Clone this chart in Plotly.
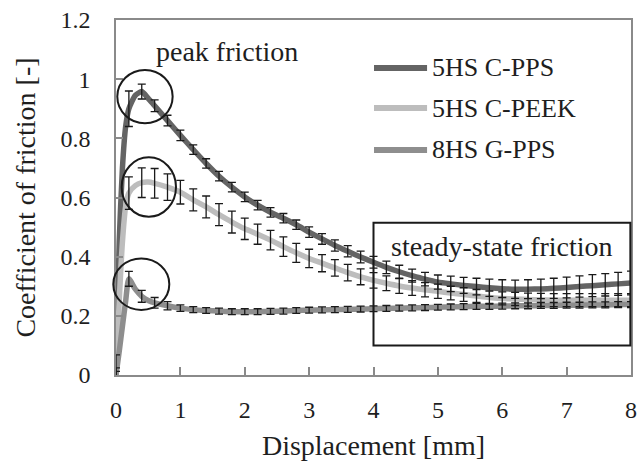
import plotly.graph_objects as go

# Sliding displacement [mm]
DISP = [0, 0.05, 0.1, 0.15, 0.2, 0.3, 0.4, 0.5, 0.6, 0.8,
        1.0, 1.2, 1.4, 1.6, 1.8, 2.0, 2.2, 2.4, 2.6, 2.8,
        3.0, 3.2, 3.4, 3.6, 3.8, 4.0, 4.2, 4.4, 4.6, 4.8,
        5.0, 5.2, 5.4, 5.6, 5.8, 6.0, 6.2, 6.4, 6.6, 6.8,
        7.0, 7.2, 7.4, 7.6, 7.8, 8.0]

# Mean coefficient of friction per material
CF_C_PPS = [0, 0.45, 0.70, 0.84, 0.90, 0.945, 0.958, 0.935, 0.91, 0.86,
            0.81, 0.762, 0.715, 0.672, 0.635, 0.602, 0.574, 0.550, 0.530, 0.508,
            0.483, 0.460, 0.438, 0.418, 0.399, 0.381, 0.364, 0.349, 0.336, 0.324,
            0.314, 0.308, 0.303, 0.299, 0.295, 0.292, 0.290, 0.290, 0.291, 0.293,
            0.296, 0.299, 0.302, 0.305, 0.308, 0.311]
CF_C_PEEK = [0, 0.25, 0.45, 0.57, 0.615, 0.64, 0.65, 0.652, 0.648, 0.635,
             0.618, 0.592, 0.568, 0.542, 0.517, 0.494, 0.476, 0.456, 0.434, 0.413,
             0.394, 0.378, 0.362, 0.346, 0.332, 0.320, 0.310, 0.301, 0.294, 0.288,
             0.283, 0.277, 0.272, 0.267, 0.262, 0.259, 0.257, 0.255, 0.254, 0.253,
             0.253, 0.253, 0.253, 0.253, 0.253, 0.253]
CF_G_PPS = [0, 0.08, 0.165, 0.25, 0.325, 0.29, 0.266, 0.252, 0.244, 0.234,
            0.226, 0.221, 0.218, 0.216, 0.214, 0.214, 0.214, 0.215, 0.216, 0.218,
            0.219, 0.220, 0.221, 0.222, 0.223, 0.224, 0.225, 0.226, 0.227, 0.228,
            0.229, 0.230, 0.231, 0.232, 0.232, 0.233, 0.234, 0.234, 0.235, 0.235,
            0.236, 0.236, 0.237, 0.237, 0.238, 0.238]

# Standard deviation (None = no error bar at that sample)
SD_C_PPS = [0.024, None, None, None, 0.06, None, 0.025, None, 0.02, 0.018,
            0.018, 0.016, 0.016, 0.016, 0.016, 0.016, 0.016, 0.016, 0.016, 0.016,
            0.018, 0.018, 0.019, 0.019, 0.02, 0.02, 0.021, 0.022, 0.022, 0.023,
            0.024, 0.026, 0.027, 0.028, 0.029, 0.030, 0.031, 0.032, 0.033, 0.034,
            0.035, 0.036, 0.037, 0.038, 0.039, 0.040]
SD_C_PEEK = [0.068, None, None, None, 0.055, None, 0.05, None, 0.05, 0.045,
             0.04, 0.037, 0.037, 0.037, 0.037, 0.036, 0.034, 0.033, 0.033, 0.032,
             0.031, 0.029, 0.028, 0.028, 0.027, 0.026, 0.025, 0.025, 0.025, 0.024,
             0.024, 0.023, 0.023, 0.022, 0.022, 0.022, 0.022, 0.022, 0.022, 0.022,
             0.022, 0.022, 0.022, 0.022, 0.022, 0.022]
SD_G_PPS = [0.012, None, None, None, 0.025, None, 0.02, None, 0.018, 0.014,
            0.011, 0.010, 0.010, 0.010, 0.010, 0.010, 0.010, 0.010, 0.010, 0.010,
            0.010, 0.010, 0.010, 0.010, 0.010, 0.010, 0.010, 0.010, 0.010, 0.010,
            0.010, 0.010, 0.010, 0.010, 0.010, 0.010, 0.010, 0.010, 0.010, 0.010,
            0.010, 0.010, 0.010, 0.010, 0.010, 0.010]

SERIES = [
    ("5HS C-PPS", CF_C_PPS, SD_C_PPS, "#646464"),
    ("5HS C-PEEK", CF_C_PEEK, SD_C_PEEK, "#bdbdbd"),
    ("8HS G-PPS", CF_G_PPS, SD_G_PPS, "#8e8e8e"),
]

FONT = "Liberation Serif"
TXT = "#1e1e1e"
AXIS = "#8a8a8a"

fig = go.Figure()


def bar_trace(cf, sd):
    # error bars only at the points that carry a standard deviation
    xs = [d for d, s in zip(DISP, sd) if s is not None]
    ys = [c for c, s in zip(cf, sd) if s is not None]
    es = [s for s in sd if s is not None]
    return go.Scatter(
        x=xs, y=ys, mode="markers", showlegend=False, hoverinfo="skip",
        marker=dict(size=1, opacity=0),
        error_y=dict(type="data", array=es, visible=True,
                     color="#1a1a1a", thickness=1.3, width=4),
    )


# mean curves
for name, cf, sd, col in SERIES:
    fig.add_trace(go.Scatter(
        x=DISP, y=cf, mode="lines", name=name, showlegend=False,
        line=dict(color=col, width=5.5, shape="spline", smoothing=0.6),
    ))

for name, cf, sd, col in SERIES:
    fig.add_trace(bar_trace(cf, sd))

# legend drawn by hand: line sample + label
LEG_Y = [0.865, 0.752, 0.634]
shapes = []
annotations = []
for (name, cf, sd, col), ly in zip(SERIES, LEG_Y):
    shapes.append(dict(type="line", xref="paper", yref="paper",
                       x0=0.501, x1=0.604, y0=ly, y1=ly,
                       line=dict(color=col, width=6)))
    annotations.append(dict(xref="paper", yref="paper", x=0.61, y=ly,
                            xanchor="left", yanchor="middle", showarrow=False,
                            text=name, font=dict(family=FONT, size=26, color=TXT)))


def dom_x(v):
    return v / 8.0


def dom_y(v):
    return v / 1.2


# circles marking the friction peaks, box marking the steady-state range
for x0, x1, y0, y1 in [(0.02, 0.88, 0.851, 1.031),
                       (0.088, 0.932, 0.535, 0.736),
                       (-0.042, 0.828, 0.22, 0.394)]:
    shapes.append(dict(type="circle", xref="x domain", yref="y domain",
                       x0=dom_x(x0), x1=dom_x(x1), y0=dom_y(y0), y1=dom_y(y1),
                       line=dict(color="#1a1a1a", width=2)))
shapes.append(dict(type="rect", xref="x domain", yref="y domain",
                   x0=dom_x(4.0), x1=dom_x(7.99), y0=dom_y(0.1), y1=dom_y(0.515),
                   line=dict(color="#1a1a1a", width=2)))

annotations.append(dict(x=1.72, y=1.092, xref="x", yref="y", showarrow=False,
                        text="peak friction",
                        font=dict(family=FONT, size=28, color=TXT)))
annotations.append(dict(x=5.99, y=0.435, xref="x", yref="y", showarrow=False,
                        text="steady-state friction",
                        font=dict(family=FONT, size=28, color=TXT)))

fig.update_layout(
    width=638, height=461,
    margin=dict(l=116, r=7, t=20, b=86),
    paper_bgcolor="white", plot_bgcolor="white",
    font=dict(family=FONT, color=TXT),
    shapes=shapes, annotations=annotations,
    xaxis=dict(range=[0, 8], dtick=1, tick0=0, automargin=False,
               showline=True, linecolor=AXIS, linewidth=1.5, mirror=True,
               ticks="inside", ticklen=8, tickcolor=AXIS, tickwidth=1.5,
               showgrid=False, zeroline=False,
               tickfont=dict(family=FONT, size=24, color=TXT),
               ticklabelstandoff=12,
               title=dict(text="Displacement [mm]", standoff=18,
                          font=dict(family=FONT, size=28, color=TXT))),
    yaxis=dict(range=[0, 1.2], dtick=0.2, tick0=0, automargin=False,
               showline=True, linecolor=AXIS, linewidth=1.5, mirror=True,
               ticks="inside", ticklen=7, tickcolor=AXIS, tickwidth=1.5,
               showgrid=False, zeroline=False,
               tickfont=dict(family=FONT, size=24, color=TXT),
               ticklabelstandoff=19,
               title=dict(text="Coefficient of friction [-]", standoff=17,
                          font=dict(family=FONT, size=28, color=TXT))),
)

fig.write_html("out.html")
